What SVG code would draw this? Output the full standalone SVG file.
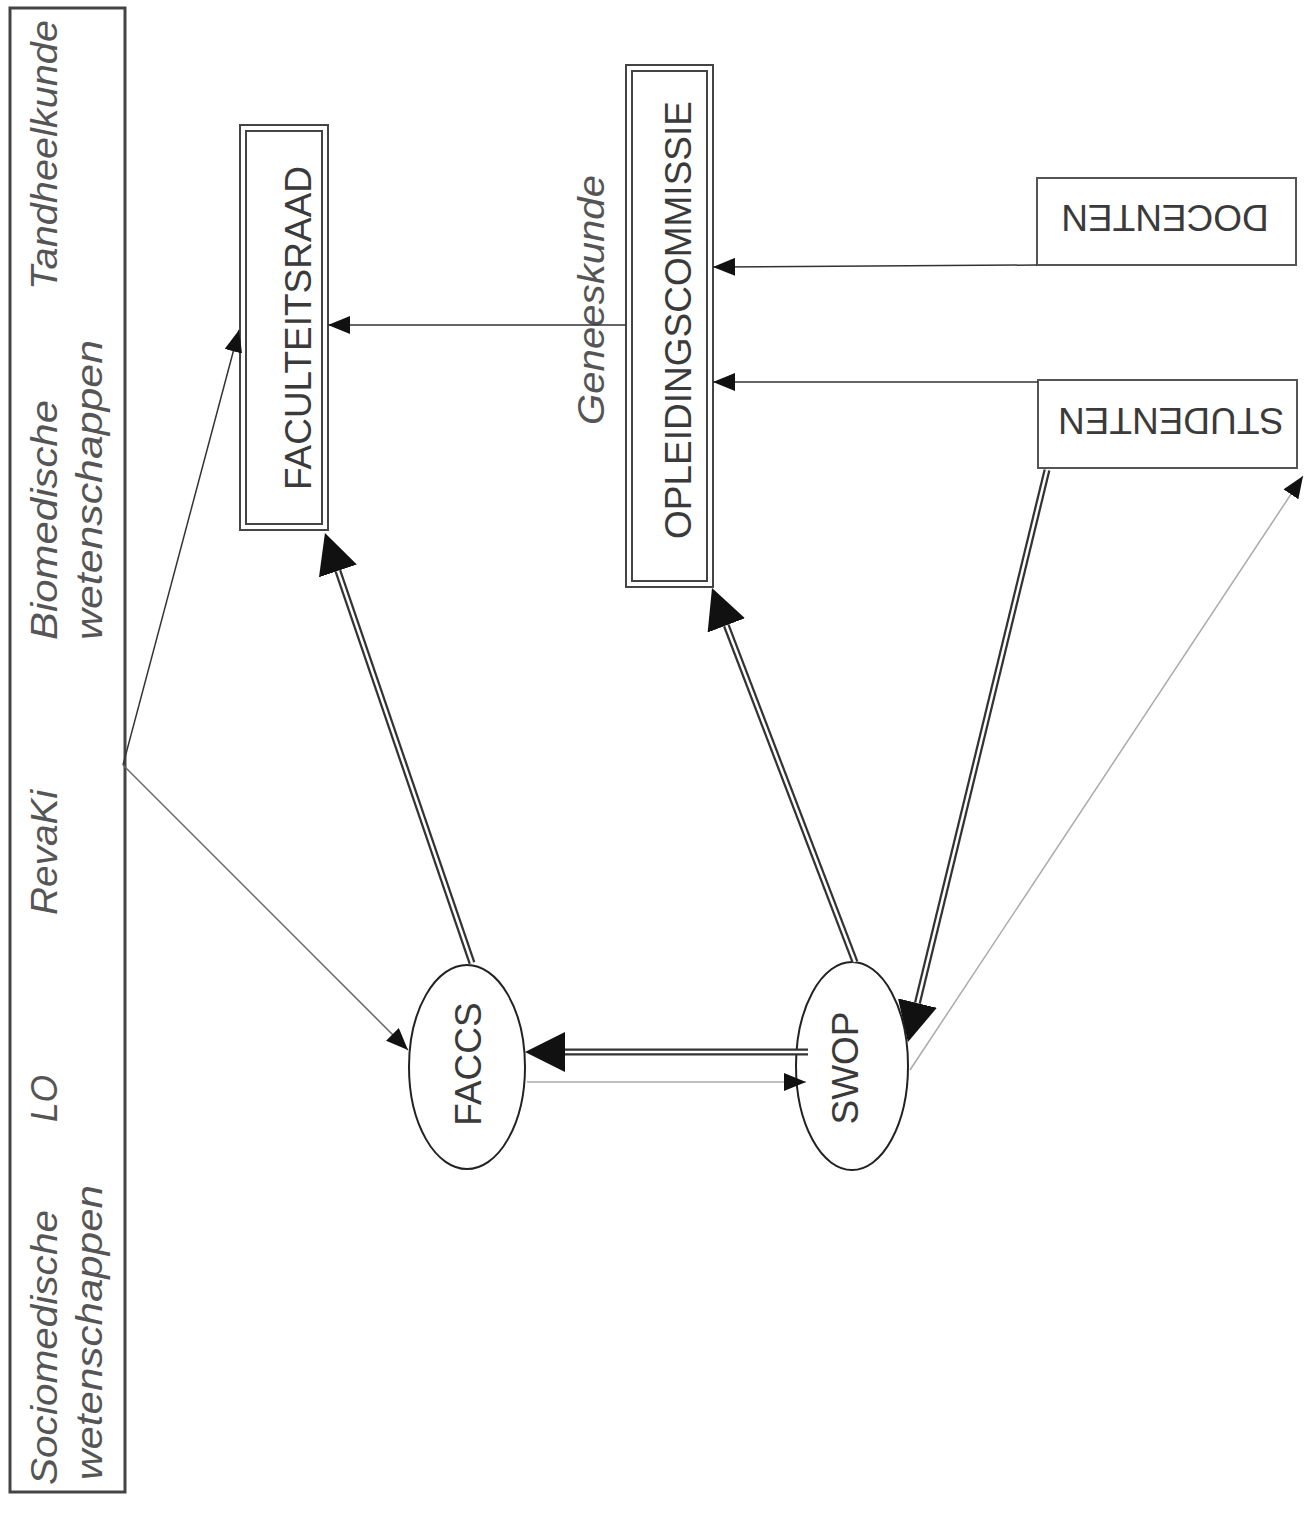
<svg xmlns="http://www.w3.org/2000/svg" width="1307" height="1517" viewBox="0 0 1307 1517">
<style>
.lbl{font-family:"Liberation Sans",Arial,sans-serif;font-style:italic;font-size:37px;fill:#555}
.node{font-family:"Liberation Sans",Arial,sans-serif;font-size:37px;fill:#3a3a3a}
.box{fill:none;stroke:#444;stroke-width:2}
.thin{fill:none;stroke:#333;stroke-width:1.5}
.mid{fill:none;stroke:#666;stroke-width:1.5}
.gray{fill:none;stroke:#aaa;stroke-width:1.5}
.dbl{fill:none;stroke:#333;stroke-width:7}
.dblin{fill:none;stroke:#fff;stroke-width:2.5}
</style>
<defs>
<marker id="sm" markerUnits="userSpaceOnUse" markerWidth="22" markerHeight="18" refX="22" refY="9" orient="auto" viewBox="0 0 22 18"><path d="M0,0 L22,9 L0,18 z" fill="#111"/></marker>
<marker id="big" markerUnits="userSpaceOnUse" markerWidth="40" markerHeight="40" refX="0" refY="20" orient="auto" viewBox="0 0 40 40"><path d="M0,0 L40,20 L0,40 z" fill="#111"/></marker>
</defs>
<rect width="1307" height="1517" fill="#fff"/>

<g id="faculteiten">
<rect x="10" y="8" width="115" height="1484" fill="none" stroke="#444" stroke-width="3"/>
<text class="lbl" transform="translate(57,290) rotate(-90)" textLength="270" lengthAdjust="spacingAndGlyphs">Tandheelkunde</text>
<text class="lbl" transform="translate(57,640) rotate(-90)" textLength="240" lengthAdjust="spacingAndGlyphs">Biomedische</text>
<text class="lbl" transform="translate(102,640) rotate(-90)" textLength="300" lengthAdjust="spacingAndGlyphs">wetenschappen</text>
<text class="lbl" transform="translate(57,915) rotate(-90)" textLength="125" lengthAdjust="spacingAndGlyphs">RevaKi</text>
<text class="lbl" transform="translate(57,1122) rotate(-90)" textLength="47" lengthAdjust="spacingAndGlyphs">LO</text>
<text class="lbl" transform="translate(57,1485) rotate(-90)" textLength="275" lengthAdjust="spacingAndGlyphs">Sociomedische</text>
<text class="lbl" transform="translate(102,1480) rotate(-90)" textLength="295" lengthAdjust="spacingAndGlyphs">wetenschappen</text>
</g>

<g id="faculteitsraad">
<rect class="box" x="240" y="125" width="88" height="405"/>
<rect class="box" x="246" y="131" width="76" height="393"/>
<text class="node" transform="translate(311,328) rotate(-90)" text-anchor="middle" font-size="38">FACULTEITSRAAD</text>
</g>

<g id="opleidingscommissie">
<rect class="box" x="626" y="65" width="87" height="522"/>
<rect class="box" x="632" y="71" width="75" height="510"/>
<text class="node" transform="translate(691,320) rotate(-90)" text-anchor="middle">OPLEIDINGSCOMMISSIE</text>
</g>

<g id="geneeskunde">
<text class="lbl" transform="translate(604,300) rotate(-90)" text-anchor="middle" textLength="250" lengthAdjust="spacingAndGlyphs">Geneeskunde</text>
</g>

<g id="docenten">
<rect x="1037" y="178" width="259" height="87" fill="none" stroke="#555" stroke-width="2"/>
<text class="node" transform="translate(1165,205) rotate(180)" text-anchor="middle">DOCENTEN</text>
</g>

<g id="studenten">
<rect x="1038" y="380" width="259" height="88" fill="none" stroke="#555" stroke-width="2"/>
<text class="node" transform="translate(1171,408) rotate(180)" text-anchor="middle">STUDENTEN</text>
</g>

<g id="faccs">
<ellipse cx="467" cy="1067" rx="58" ry="102" fill="none" stroke="#222" stroke-width="2"/>
<text class="node" transform="translate(481,1064) rotate(-90)" text-anchor="middle">FACCS</text>
</g>

<g id="swop">
<ellipse cx="852" cy="1066" rx="56" ry="104" fill="none" stroke="#222" stroke-width="2"/>
<text class="node" transform="translate(858,1068) rotate(-90)" text-anchor="middle">SWOP</text>
</g>

<g id="connectors">
<path class="thin" d="M123,765 L239,330" marker-end="url(#sm)"/>
<path class="mid" d="M123,765 L408,1050" marker-end="url(#sm)"/>
<path class="thin" d="M626,325 L328,325" marker-end="url(#sm)"/>
<path class="thin" d="M1037,265 L713,267" marker-end="url(#sm)"/>
<path class="thin" d="M1038,382 L713,382" marker-end="url(#sm)"/>
<path class="gray" d="M527,1082 L806,1082" marker-end="url(#sm)"/>
<path class="gray" d="M910,1070 L1303,476" marker-end="url(#sm)"/>

<path class="dbl" d="M472,963 L337.9,570.9" marker-end="url(#big)"/>
<path class="dblin" d="M472,963 L337.9,570.9"/>
<path class="dbl" d="M855,962 L726.3,625.4" marker-end="url(#big)"/>
<path class="dblin" d="M855,962 L726.3,625.4"/>
<path class="dbl" d="M1047,470 L917.4,1003.1" marker-end="url(#big)"/>
<path class="dblin" d="M1047,470 L917.4,1003.1"/>
<path class="dbl" d="M808,1052 L565,1052" marker-end="url(#big)"/>
<path class="dblin" d="M808,1052 L565,1052"/>
</g>
</svg>
